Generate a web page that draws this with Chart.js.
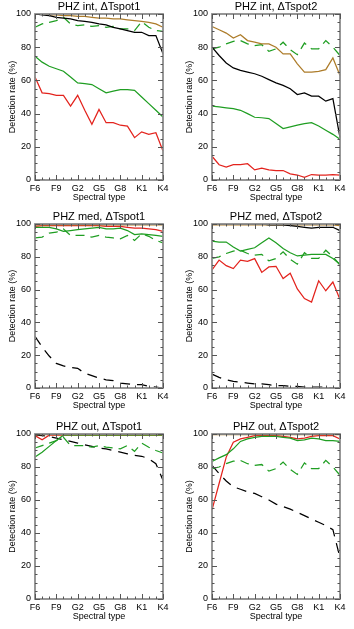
<!DOCTYPE html>
<html>
<head>
<meta charset="utf-8">
<script src="https://cdn.jsdelivr.net/npm/chart.js@4"></script>
<style>
  body { margin: 0; background: #fff; }
  canvas { position: absolute; }
</style>
</head>
<body>
<canvas id="p1" style="left:0;top:0"></canvas>
<canvas id="p2" style="left:177px;top:0"></canvas>
<canvas id="p3" style="left:0;top:210px"></canvas>
<canvas id="p4" style="left:177px;top:210px"></canvas>
<canvas id="p5" style="left:0;top:420px"></canvas>
<canvas id="p6" style="left:177px;top:420px"></canvas>
<script>
const spectralTypes = ['F6','F7','F8','F9','G0','G1','G2','G3','G4','G5','G6','G7','G8','G9','K0','K1','K2','K3','K4'];
const yTicks = [0, 20, 40, 60, 80, 100];

// PHZ int, dTspot1
const intT1Black = [100,99.5,99,98,97.5,97,96,95.5,95,94,93.5,92,91,90,89,89,87,87,76];
const intT1Brown = [100,100,99.5,99.5,99,99,98.5,98.5,98,97.5,97.5,97,97,96.5,96,95.5,95,94,92];
const intT1Green = [74.5,71,68.5,67,65.5,62,58.5,58,57.5,55,52.5,53.5,54.5,54.5,54,50,46,42,38];
const intT1Red = [62,52.5,52,51,51,44.5,51,42,33.5,42.5,34.5,34.5,33,32.5,25.5,29,27.5,28.5,17.5];
const intT1GreenDash = [92,94,95,96,98,94,93,93.5,92.5,93,92,92.5,91,91,90,95.5,92,90,89.5];
const intT1BlackDash = [0,0,0,0,0,0,0,0,0,0,0,0,0,0,0,0,0,0,0];

// PHZ int, dTspot2
const intT2Black = [80,75,70.5,67.5,66,65,64,62.5,60.5,58.5,57,55,51.5,52.5,50.5,50.5,47.5,49,25.5];
const intT2Brown = [92.5,90.5,88.5,85.5,87.5,84,83,82,82,80,76,76,70,65,65,65.5,66.5,73.5,63];
const intT2Green = [44.5,44,43.5,43,42,40,37.8,37.5,37,34,31,32,33,34,34.5,32.5,30,27.5,24.5];
const intT2Red = [14.3,9.2,7.8,9.2,9.2,9.8,6.1,7.1,6.1,5.7,5.7,3.7,3,1.6,3.3,2.9,3,3.3,2.9];
const intT2GreenDash = [79,80,82,83.5,84,82,81,81.5,77.5,79,83,78.5,75.5,82.5,79,79,84,80,75];
const intT2BlackDash = [0,0,0,0,0,0,0,0,0,0,0,0,0,0,0,0,0,0,0];

// PHZ med, dTspot1
const medT1Black = [100,100,100,100,100,100,100,100,100,100,100,100,100,100,100,100,100,100,100];
const medT1Brown = [99.5,99.5,99.5,99.5,99.5,99.5,99.5,99.5,99.5,99.5,99.5,99.5,99.5,99.5,99.5,99.5,99.5,99.5,99.5];
const medT1Green = [98,98,98,97,95.5,96,96.5,97,97.5,98,97,97,97.5,96,93.5,94,93.5,93,92.5];
const medT1Red = [98.5,99,99,99,99,99,99,99,99,99,98.5,98.5,98.5,98,97.5,97.5,97,96.5,95.5];
const medT1GreenDash = [91.5,92,94.5,95,97,93,93,93,92,93,92,91.5,91,93,90,94,92.5,90,88.5];
const medT1BlackDash = [31.5,25,19.5,15,13.5,12.5,12,9,7.5,6,5,4.5,3,2.5,2,2,1,0.5,0];

// PHZ med, dTspot2
const medT2Black = [100,100,100,100,100,100,100,100,99.5,99.5,99.5,99,98.5,98,97.5,98,98,98,96];
const medT2Brown = [99.5,99.5,99.5,99.5,99.5,99.5,99.5,99.5,99.5,99.5,99.5,99.5,99.5,99.5,99.5,99.5,99.5,99.5,99];
const medT2Green = [89.5,89,89,86,83.5,84.5,85.5,88.5,91.5,88.5,85,82.5,80.5,81,81.5,81.5,81.5,79,75.5];
const medT2Red = [72,78,74.6,72.8,78,77.2,78.9,70.5,73.8,74.2,66.7,70,60.4,54.5,52.4,65.4,59.3,64.6,54];
const medT2GreenDash = [79,80,82,83.5,84,82,81,81.5,77.5,79,83,78.5,75.5,82.5,79,79,84,80,75];
const medT2BlackDash = [8.5,6.5,5,4,3.5,3,2.5,2.5,2,1.5,1.5,1,1,0.5,0.5,0.5,0.5,0,0];

// PHZ out, dTspot1
const outT1Black = [100,100,100,100,100,100,100,100,100,100,100,100,100,100,100,100,100,100,100];
const outT1Brown = [99.6,99.6,99.6,99.6,99.6,99.6,99.6,99.6,99.6,99.6,99.6,99.6,99.6,99.6,99.6,99.6,99.6,99.6,99.6];
const outT1Green = [86,89,92.5,96,99.3,99.3,99.3,99.3,99.3,99.3,99.3,99.3,99.3,99.3,99.3,99.3,99.3,99.3,99.3];
const outT1Red = [99,96.5,99.3,99.3,99.3,99.3,99.3,99.3,99.3,99.3,99.3,99.3,99.3,99.3,99.3,99.3,99.3,99.3,99.3];
const outT1GreenDash = [91.5,93,94.5,96,98,93,93,93,92,93,92,91.5,91,93,89.5,94.5,92,90,88.5];
const outT1BlackDash = [99.5,99,98.5,97.5,96.5,95.5,94.5,93.5,92.5,91.5,91,90,89,88,87,86.5,85,82,72];

// PHZ out, dTspot2
const outT2Black = [100,100,100,100,100,100,100,100,100,100,100,100,100,100,100,100,100,100,100];
const outT2Brown = [99.6,99.6,99.6,99.6,99.6,99.6,99.6,99.6,99.6,99.6,99.6,99.6,99.6,99.6,99.6,99.6,99.6,99.6,99.6];
const outT2Green = [83.3,85.5,87.5,91,95.5,97,98,98.5,98.5,98.5,98,97.5,96,96.5,97.5,97,96,96,95.5];
const outT2Red = [54,70,86,95,97,98,99,99,99,99,98.5,98,97,97.5,98.5,99,99,99,97];
const outT2GreenDash = [79,80,82,83.5,84,82,81,81.5,77.5,79,83,78.5,75.5,82.5,79,79,84,80,75];
const outT2BlackDash = [81,76,71.5,68,66.5,65,64,62,60,57.5,56,54.5,52.5,50.5,48.5,46.5,44.5,42,25];

const FONT = "'Liberation Sans', Arial, sans-serif";
const BLACK = '#000000', BROWN = '#ad7c2a', GREEN = '#1f9e22', RED = '#e3231d';

// IDL-like box: gray frame with inward ticks on all four sides
const framePlugin = {
  id: 'frame',
  afterDatasetsDraw(chart) {
    const { ctx, chartArea: a, scales: { x, y } } = chart;
    ctx.save();
    ctx.strokeStyle = '#8c8c8c';
    ctx.lineWidth = 1.8;
    ctx.strokeRect(a.left, a.top, a.right - a.left, a.bottom - a.top);
    ctx.beginPath();
    for (let v = 0; v <= 100; v += 5) {
      const py = Math.round(y.getPixelForValue(v)) + 0.5;
      const len = v % 20 === 0 ? 5 : 2.5;
      ctx.moveTo(a.left, py); ctx.lineTo(a.left + len, py);
      ctx.moveTo(a.right, py); ctx.lineTo(a.right - len, py);
    }
    spectralTypes.forEach((s, i) => {
      const px = Math.round(x.getPixelForValue(i)) + 0.5;
      const len = i % 3 === 0 ? 5 : 2.5;
      ctx.moveTo(px, a.bottom); ctx.lineTo(px, a.bottom - len);
      ctx.moveTo(px, a.top); ctx.lineTo(px, a.top + len);
    });
    ctx.lineWidth = 1;
    ctx.strokeStyle = '#555';
    ctx.stroke();
    ctx.restore();
  }
};

function line(data, color, dash) {
  return {
    data: data,
    borderColor: color,
    borderWidth: 1.25,
    borderDash: dash || [],
    pointRadius: 0,
    tension: 0,
    fill: false
  };
}

function makePanel(id, height, title, black, brown, green, red, greenDash, blackDash) {
  const canvas = document.getElementById(id);
  canvas.width = 177;
  canvas.height = height;
  new Chart(canvas, {
    type: 'line',
    data: {
      labels: spectralTypes,
      datasets: [
        line(black, BLACK),
        line(brown, BROWN),
        line(green, GREEN),
        line(red, RED),
        line(greenDash, GREEN, [9, 6]),
        line(blackDash, BLACK, [10, 7])
      ]
    },
    options: {
      responsive: false,
      animation: false,
      layout: { padding: { left: 0, right: 14, top: 0, bottom: 2 } },
      plugins: {
        legend: { display: false },
        tooltip: { enabled: false },
        title: {
          display: true,
          text: title,
          fullSize: false,
          color: '#000',
          font: { family: FONT, size: 11, weight: 'normal' },
          padding: { top: 0, bottom: 0.8 }
        }
      },
      scales: {
        x: {
          type: 'category',
          offset: false,
          grid: { display: false, drawTicks: false },
          border: { display: false },
          ticks: {
            autoSkip: false,
            maxRotation: 0,
            padding: 3,
            color: '#000',
            font: { family: FONT, size: 9 },
            callback: (v, i) => (i % 3 === 0 ? spectralTypes[i] : '')
          },
          title: {
            display: true,
            text: 'Spectral type',
            color: '#000',
            padding: 0,
            font: { family: FONT, size: 9 }
          },
          afterFit: s => { s.height = 23; }
        },
        y: {
          min: 0,
          max: 100,
          grid: { display: false, drawTicks: false },
          border: { display: false },
          afterBuildTicks: s => { s.ticks = yTicks.map(v => ({ value: v })); },
          ticks: {
            padding: 4,
            color: '#000',
            font: { family: FONT, size: 9 }
          },
          title: {
            display: true,
            text: 'Detection rate (%)',
            color: '#000',
            padding: { top: 7, bottom: 0 },
            font: { family: FONT, size: 9 }
          },
          afterFit: s => { s.width = 35; }
        }
      }
    },
    plugins: [framePlugin]
  });
}

makePanel('p1', 205, 'PHZ int, ΔTspot1', intT1Black, intT1Brown, intT1Green, intT1Red, intT1GreenDash, intT1BlackDash);
makePanel('p2', 205, 'PHZ int, ΔTspot2', intT2Black, intT2Brown, intT2Green, intT2Red, intT2GreenDash, intT2BlackDash);
makePanel('p3', 203, 'PHZ med, ΔTspot1', medT1Black, medT1Brown, medT1Green, medT1Red, medT1GreenDash, medT1BlackDash);
makePanel('p4', 203, 'PHZ med, ΔTspot2', medT2Black, medT2Brown, medT2Green, medT2Red, medT2GreenDash, medT2BlackDash);
makePanel('p5', 204, 'PHZ out, ΔTspot1', outT1Black, outT1Brown, outT1Green, outT1Red, outT1GreenDash, outT1BlackDash);
makePanel('p6', 204, 'PHZ out, ΔTspot2', outT2Black, outT2Brown, outT2Green, outT2Red, outT2GreenDash, outT2BlackDash);
</script>
</body>
</html>
